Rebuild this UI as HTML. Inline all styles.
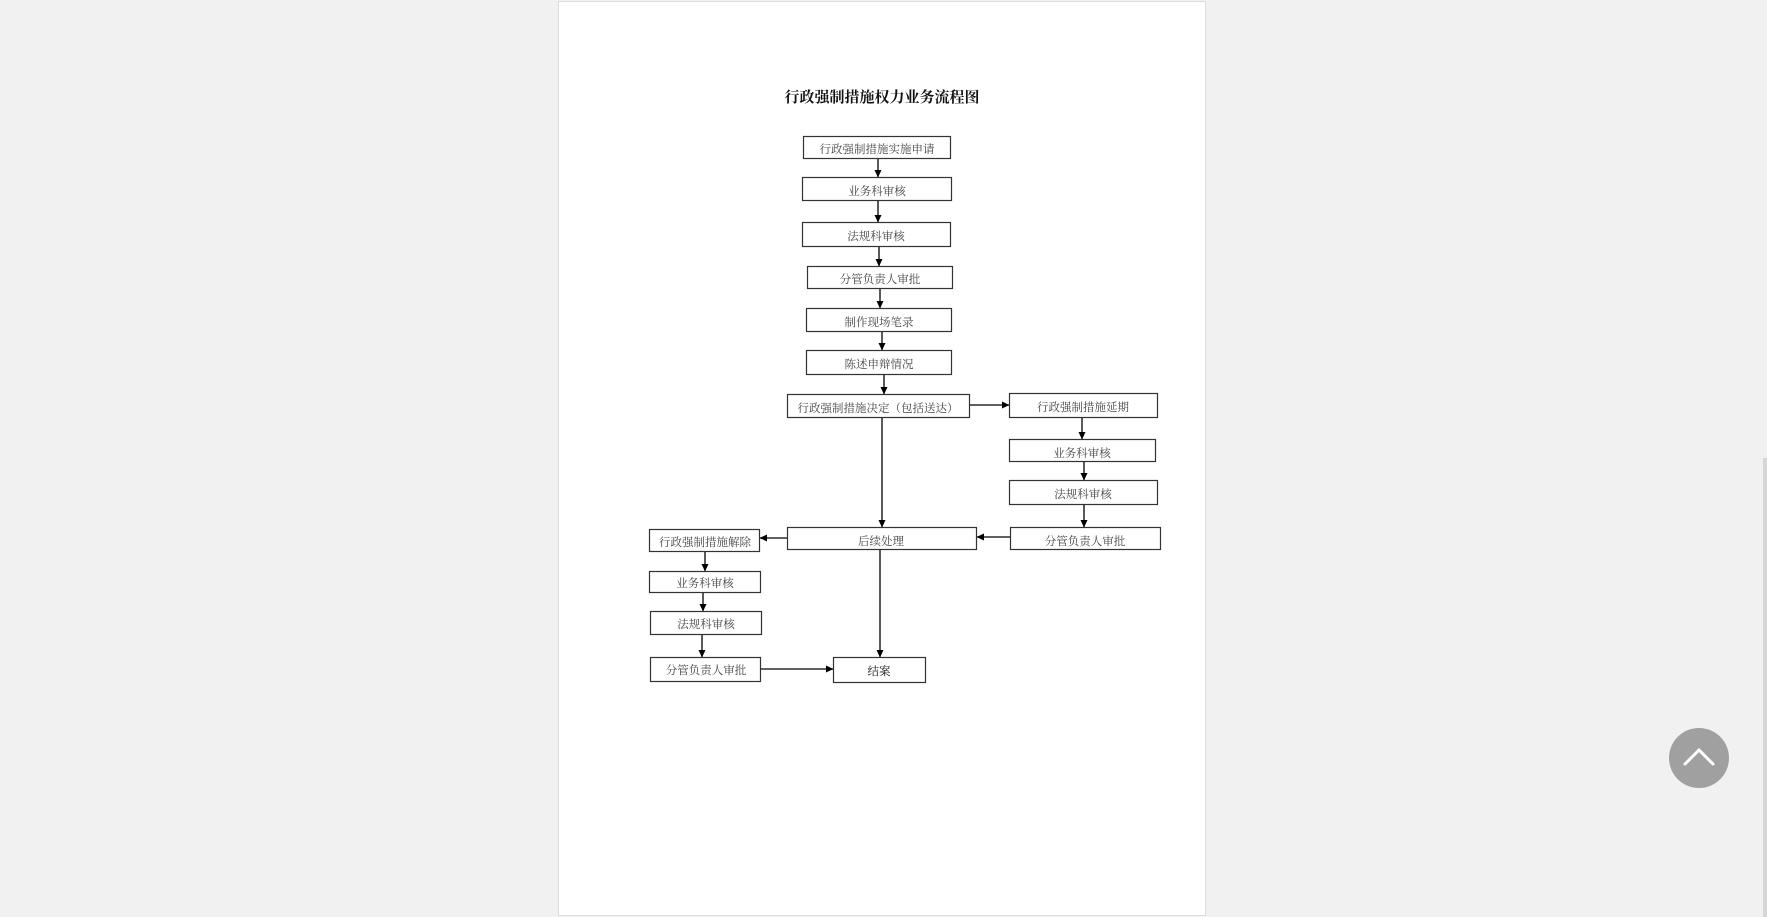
<!DOCTYPE html>
<html><head><meta charset="utf-8"><style>
html,body{margin:0;padding:0;width:1767px;height:917px;background:#f1f1f1;overflow:hidden}
svg{position:absolute;left:0;top:0}
text{font-family:"Liberation Serif","Noto Serif CJK SC",serif;font-size:11.5px;fill:#444;text-anchor:middle}
</style></head><body>
<svg width="1767" height="917" viewBox="0 0 1767 917">
<defs><marker id="a" markerWidth="8" markerHeight="8" refX="7" refY="4" orient="auto" markerUnits="userSpaceOnUse"><path d="M0,0.5 L7.5,4 L0,7.5z" fill="#000"/></marker></defs>
<rect x="558.5" y="1.5" width="647" height="914" fill="#fff" stroke="#ddd"/>
<rect x="1763" y="458" width="4" height="459" fill="#d6d6d6"/>
<text x="882" y="102" style="font-size:15px;font-weight:bold;fill:#111">行政强制措施权力业务流程图</text>
<g fill="#fff" stroke="#333" stroke-width="1.2">
<rect x="803.5" y="136.5" width="147" height="22"/>
<rect x="802.5" y="177.5" width="149" height="23"/>
<rect x="802.5" y="222.5" width="148" height="24"/>
<rect x="807.5" y="266.5" width="145" height="22"/>
<rect x="806.5" y="308.5" width="145" height="23"/>
<rect x="806.5" y="350.5" width="145" height="24"/>
<rect x="787.5" y="394.5" width="182" height="23"/>
<rect x="1009.5" y="393.5" width="148" height="24"/>
<rect x="1009.5" y="439.5" width="146" height="22"/>
<rect x="1009.5" y="480.5" width="148" height="24"/>
<rect x="1010.5" y="527.5" width="150" height="22"/>
<rect x="787.5" y="527.5" width="189" height="22"/>
<rect x="649.5" y="529.5" width="110" height="22"/>
<rect x="649.5" y="571.5" width="111" height="21"/>
<rect x="650.5" y="611.5" width="111" height="23"/>
<rect x="650.5" y="657.5" width="110" height="24"/>
<rect x="833.5" y="657.5" width="92" height="25"/>
</g>
<text x="877" y="153">行政强制措施实施申请</text>
<text x="877" y="195">业务科审核</text>
<text x="876" y="240">法规科审核</text>
<text x="880" y="283">分管负责人审批</text>
<text x="879" y="326">制作现场笔录</text>
<text x="879" y="368">陈述申辩情况</text>
<text x="878" y="412">行政强制措施决定（包括送达）</text>
<text x="1083" y="411">行政强制措施延期</text>
<text x="1082" y="457">业务科审核</text>
<text x="1083" y="498">法规科审核</text>
<text x="1085" y="545">分管负责人审批</text>
<text x="881" y="545">后续处理</text>
<text x="705" y="546">行政强制措施解除</text>
<text x="705" y="587">业务科审核</text>
<text x="706" y="628">法规科审核</text>
<text x="706" y="674">分管负责人审批</text>
<text x="879" y="675" style="fill:#111">结案</text>
<g stroke="#000" stroke-width="1.3" marker-end="url(#a)" fill="none">
<line x1="878" y1="159" x2="878" y2="177"/>
<line x1="878" y1="201" x2="878" y2="222"/>
<line x1="879" y1="247" x2="879" y2="266"/>
<line x1="880" y1="289" x2="880" y2="308"/>
<line x1="882" y1="332" x2="882" y2="350"/>
<line x1="884" y1="375" x2="884" y2="394"/>
<line x1="882" y1="418" x2="882" y2="527"/>
<line x1="970" y1="405" x2="1009" y2="405"/>
<line x1="1082" y1="418" x2="1082" y2="439"/>
<line x1="1084" y1="462" x2="1084" y2="480"/>
<line x1="1084" y1="505" x2="1084" y2="527"/>
<line x1="1010" y1="537" x2="977" y2="537"/>
<line x1="787" y1="538" x2="760" y2="538"/>
<line x1="880" y1="550" x2="880" y2="657"/>
<line x1="705" y1="552" x2="705" y2="571"/>
<line x1="703" y1="593" x2="703" y2="611"/>
<line x1="702" y1="635" x2="702" y2="657"/>
<line x1="761" y1="669" x2="833" y2="669"/>
</g>
<circle cx="1699" cy="758" r="30" fill="#a0a0a0"/>
<polyline points="1685,764 1699,750 1713,764" fill="none" stroke="#fff" stroke-width="3" stroke-linecap="round"/>
</svg>
</body></html>
